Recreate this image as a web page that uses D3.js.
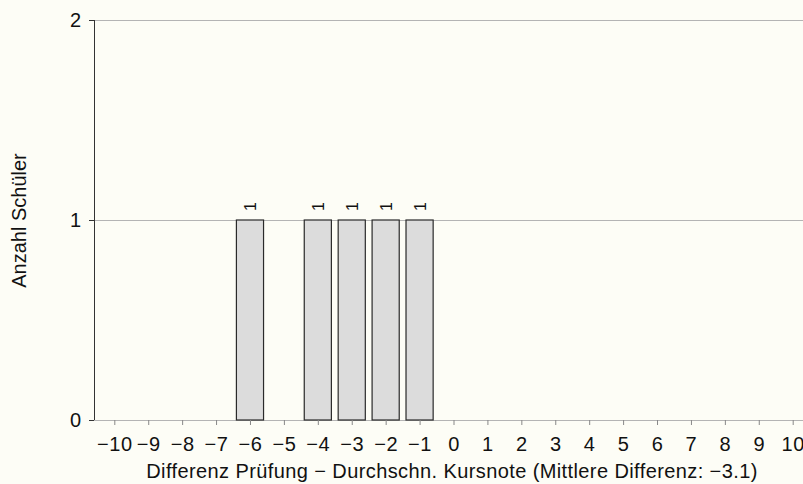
<!DOCTYPE html>
<html><head><meta charset="utf-8">
<script src="https://cdn.jsdelivr.net/npm/d3@7"></script>
<style>
html,body{margin:0;padding:0;background:#fdfdf6;}
svg{display:block;font-family:"Liberation Sans",Arial,Helvetica,sans-serif;}
</style></head>
<body><svg id="c" width="803" height="484"></svg>
<script>
const diffs = [-6, -4, -3, -2, -1];
const counts = [1, 1, 1, 1, 1];
const xTicks = d3.range(-10, 11);
const yTicks = [0, 1, 2];
const xTitle = "Differenz Prüfung \u2212 Durchschn. Kursnote (Mittlere Differenz: \u22123.1)";
const yTitle = "Anzahl Schüler";

const svg = d3.select("#c");
const W = 803, H = 484;
const mLeft = 94, mTop = 20, mBottom = 420;
const FONT = "Liberation Sans, Arial, Helvetica, sans-serif";
const x = d3.scaleLinear().domain([-10, 10]).range([114.3, 792.7]);
const y = d3.scaleLinear().domain([0, 2]).range([mBottom, mTop]);
const step = x(1) - x(0);
const bw = step * 0.8;
const fmt = d => d < 0 ? "\u2212" + Math.abs(d) : String(d);

svg.append("rect").attr("width", W).attr("height", H).attr("fill", "#fdfdf6");

// gridlines
svg.append("g").selectAll("line").data(yTicks).join("line")
  .attr("x1", mLeft).attr("x2", W).attr("y1", d => y(d) + 0.5).attr("y2", d => y(d) + 0.5)
  .attr("stroke", "#b4b4b4").attr("stroke-width", 1);

// bars
const data = diffs.map((d, i) => ({d, c: counts[i]}));
svg.append("g").selectAll("rect").data(data).join("rect")
  .attr("x", d => x(d.d) - bw / 2).attr("width", bw)
  .attr("y", d => y(d.c)).attr("height", d => y(0) - y(d.c))
  .attr("fill", "#dcdcdc").attr("stroke", "#2a2a2a").attr("stroke-width", 1.2);

// bar labels
svg.append("g").selectAll("text").data(data).join("text")
  .attr("transform", d => `translate(${x(d.d) + 6.5},${y(d.c) - 9}) rotate(-90)`)
  .attr("text-anchor", "start").attr("font-size", 16).attr("fill", "#111")
  .attr("font-family", FONT)
  .text(d => d.c);

// y axis
const yAxis = d3.axisLeft(y).tickValues(yTicks).tickSize(5).tickFormat(d3.format("d"));
const gy = svg.append("g").attr("transform", `translate(${mLeft},0)`).call(yAxis);
gy.select(".domain").attr("stroke", "#333").attr("d", `M0.5,${mTop}V${mBottom}`);
gy.selectAll(".tick line").attr("stroke", "#333");
gy.selectAll(".tick text").attr("font-size", 20).attr("fill", "#111").attr("x", -13)
  .attr("font-family", FONT);

// x axis
const xAxis = d3.axisBottom(x).tickValues(xTicks).tickSize(5).tickFormat(fmt);
const gx = svg.append("g").attr("transform", `translate(0,${mBottom})`).call(xAxis);
gx.select(".domain").remove();
gx.selectAll(".tick line").attr("stroke", "#888");
gx.selectAll(".tick text").attr("font-size", 20).attr("fill", "#111")
  .attr("y", 30.5).attr("dy", 0).attr("letter-spacing", 0.6)
  .attr("font-family", FONT);

// titles
svg.append("text").attr("x", 452).attr("y", 478).attr("text-anchor", "middle")
  .attr("font-size", 20).attr("letter-spacing", 0.4).attr("fill", "#111")
  .attr("font-family", FONT).text(xTitle);
svg.append("text").attr("transform", `translate(25.5,220.5) rotate(-90)`)
  .attr("text-anchor", "middle").attr("font-size", 20).attr("fill", "#111")
  .attr("font-family", FONT).text(yTitle);
</script></body></html>
